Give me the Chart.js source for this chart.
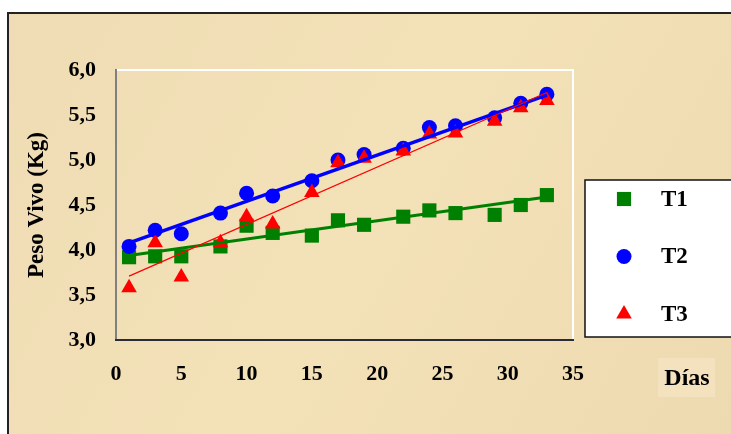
<!DOCTYPE html>
<html lang="es">
<head>
<meta charset="utf-8">
<title>Peso vivo por días</title>
<style>
html, body { margin: 0; padding: 0; background: #fff; }
</style>
</head>
<body>
<canvas id="canvas" width="731" height="434"></canvas>
<script src="https://cdn.jsdelivr.net/npm/chart.js"></script>
<script>

// días de muestreo y peso vivo (kg) de cada tratamiento
let DAYS = [1, 3, 5, 8, 10, 12, 15, 17, 19, 22, 24, 26, 29, 31, 33]
let T1 = [3.92, 3.93, 3.93, 4.04, 4.27, 4.19, 4.16, 4.33, 4.28, 4.37, 4.44, 4.41, 4.39, 4.50, 4.61]
let T2 = [4.04, 4.22, 4.18, 4.41, 4.63, 4.60, 4.77, 5.00, 5.06, 5.13, 5.36, 5.38, 5.47, 5.63, 5.73]
let T3 = [3.58, 4.08, 3.70, 4.08, 4.37, 4.29, 4.64, 4.97, 5.02, 5.10, 5.29, 5.30, 5.43, 5.58, 5.66]

// extremos de las líneas de tendencia
let TREND_DAYS = [1, 33]
let TREND_T1 = [3.94, 4.59]
let TREND_T2 = [4.08, 5.72]
let TREND_T3 = [3.71, 5.75]

let X_TICKS = [0, 5, 10, 15, 20, 25, 30, 35]
let Y_TICKS = [3.0, 3.5, 4.0, 4.5, 5.0, 5.5, 6.0]

let SERIF = "'Liberation Serif', 'Times New Roman', serif"

const pts = (xs, ys) => xs.map((x, i) => ({x: x, y: ys[i]}))

let SERIES = [
    {label: "T1", data: T1, color: "#008000", style: "rect", radius: 10},
    {label: "T2", data: T2, color: "#0000FF", style: "circle", radius: 7.5},
    {label: "T3", data: T3, color: "#FF0000", style: "triangle", radius: 9},
]
let TRENDS = [
    {data: TREND_T1, color: "#008000", width: 3},
    {data: TREND_T2, color: "#0000FF", width: 3.5},
    {data: TREND_T3, color: "#FF0000", width: 1.2},
]

let datasets = []
SERIES.forEach((s, i) => datasets.push({
    label: s.label,
    data: pts(DAYS, s.data),
    showLine: false,
    pointStyle: s.style,
    pointRadius: s.radius,
    pointHoverRadius: s.radius,
    pointBackgroundColor: s.color,
    pointBorderColor: s.color,
    pointBorderWidth: 0,
    order: 6 - i,
}))
TRENDS.forEach((t, i) => datasets.push({
    label: "trend",
    data: pts(TREND_DAYS, t.data),
    showLine: true,
    borderColor: t.color,
    borderWidth: t.width,
    pointRadius: 0,
    fill: false,
    order: 3 - i,
}))

let frame = {
    id: "frame",
    beforeDraw(chart) {
        let c = chart.ctx
        c.save()
        c.fillStyle = "#ffffff"
        c.fillRect(0, 0, chart.width, chart.height)
        let g = c.createLinearGradient(0, 12, 731, 434)
        g.addColorStop(0, "#efdcb4")
        g.addColorStop(0.5, "#f3e1b8")
        g.addColorStop(1, "#eedab0")
        c.fillStyle = g
        c.fillRect(8, 12, chart.width - 8, chart.height - 12)
        c.strokeStyle = "#222"
        c.lineWidth = 2
        c.beginPath()
        c.moveTo(8, chart.height)
        c.lineTo(8, 13)
        c.lineTo(chart.width, 13)
        c.stroke()
        // slightly lighter patch behind the x title
        c.fillStyle = "#f3e2bd"
        c.fillRect(658, 358, 57, 39)
        c.restore()
    },
    beforeDatasetsDraw(chart) {
        let a = chart.chartArea
        let c = chart.ctx
        c.save()
        c.lineWidth = 2
        c.strokeStyle = "#ffffff"
        c.beginPath()
        c.moveTo(a.left, a.top)
        c.lineTo(a.right, a.top)
        c.lineTo(a.right, a.bottom)
        c.stroke()
        c.strokeStyle = "#808080"
        c.beginPath()
        c.moveTo(a.left, a.top - 1)
        c.lineTo(a.left, a.bottom)
        c.stroke()
        c.strokeStyle = "#2a2a3a"
        c.beginPath()
        c.moveTo(a.left - 1, a.bottom)
        c.lineTo(a.right + 1, a.bottom)
        c.stroke()
        c.restore()
    },
    afterDraw(chart) {
        let c = chart.ctx
        c.save()
        // legend box
        c.fillStyle = "#ffffff"
        c.fillRect(585, 180, 160, 157)
        c.strokeStyle = "#111"
        c.lineWidth = 1.5
        c.strokeRect(585, 180, 160, 157)
        SERIES.forEach((s, i) => {
            let y = 199 + i * 57.5
            c.fillStyle = s.color
            c.strokeStyle = s.color
            Chart.helpers.drawPoint(c, {pointStyle: s.style, radius: s.radius, rotation: 0, borderWidth: 0}, 624, y)
            c.fillStyle = "#000"
            c.font = "bold 23px " + SERIF
            c.textAlign = "left"
            c.textBaseline = "middle"
            c.fillText(s.label, 661, y + 1)
        })
        // x axis title
        c.fillStyle = "#000"
        c.font = "bold 24px " + SERIF
        c.textAlign = "center"
        c.textBaseline = "middle"
        c.fillText("Días", 687, 379)
        c.restore()
    },
}

let chart = new Chart(document.getElementById("canvas"), {
    type: "scatter",
    data: {datasets: datasets},
    options: {
        responsive: false,
        animation: false,
        events: [],
        layout: {padding: {left: 0, top: 70, right: 158, bottom: 0}},
        plugins: {
            legend: {display: false},
            tooltip: {enabled: false},
        },
        scales: {
            x: {
                type: "linear",
                min: 0,
                max: 35,
                afterFit: s => { s.height = 94 },
                afterBuildTicks: s => { s.ticks = X_TICKS.map(v => ({value: v})) },
                grid: {display: false, drawTicks: false},
                border: {display: false},
                ticks: {
                    color: "#000",
                    padding: 21,
                    font: {family: SERIF, size: 22, weight: "bold"},
                },
            },
            y: {
                type: "linear",
                min: 3,
                max: 6,
                afterFit: s => { s.width = 116 },
                afterBuildTicks: s => { s.ticks = Y_TICKS.map(v => ({value: v})) },
                grid: {display: false, drawTicks: false},
                border: {display: false},
                ticks: {
                    color: "#000",
                    padding: 20,
                    font: {family: SERIF, size: 22, weight: "bold"},
                    callback: v => v.toFixed(1).replace(".", ","),
                },
                title: {
                    display: true,
                    text: "Peso Vivo (Kg)",
                    color: "#000",
                    padding: {top: 23, bottom: 0},
                    font: {family: SERIF, size: 23, weight: "bold"},
                },
            },
        },
    },
    plugins: [frame],
})

</script>
</body>
</html>
